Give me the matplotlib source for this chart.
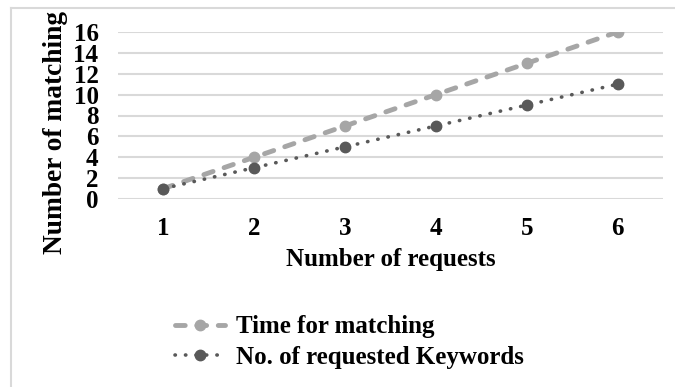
import matplotlib.pyplot as plt
from matplotlib.lines import Line2D

plt.rcParams['font.family'] = ['Liberation Serif', 'DejaVu Serif']
plt.rcParams['font.weight'] = 'bold'

# data
requests = [1, 2, 3, 4, 5, 6]
time_matching = [1, 4, 7, 10, 13, 16]
keywords = [1, 3, 5, 7, 9, 11]
yticks = [0, 2, 4, 6, 8, 10, 12, 14, 16]

light = '#a6a6a6'
dark = '#595959'
fs = 18

fig = plt.figure(figsize=(6.75, 3.87), dpi=100)
ax = fig.add_axes([118/675, 1 - 199/387, (663-118)/675, (199-32)/387])

ax.plot(requests, time_matching, color=light, linestyle=(0, (2, 2.4)), linewidth=3.5,
        marker='o', markersize=7.5, label='Time for matching', dash_capstyle='round')
ax.plot(requests, keywords, color=dark, linestyle=(0, (0.1, 2.8)), linewidth=2.6,
        marker='o', markersize=7.5, label='No. of requested Keywords', dash_capstyle='round')

ax.set_xlim(0.5, 6.5)
ax.set_ylim(0, 16)
ax.set_yticks(yticks)
ax.set_xticks(requests)
ax.yaxis.grid(True, color='#d9d9d9', linewidth=1.5)
ax.set_axisbelow(True)
for s in ax.spines.values():
    s.set_visible(False)
ax.tick_params(length=0, labelsize=fs)
ax.tick_params(axis='x', pad=13)
ax.tick_params(axis='y', pad=14)
for lbl in ax.get_xticklabels() + ax.get_yticklabels():
    lbl.set_fontweight('bold')

ax.set_xlabel('Number of requests', fontsize=fs, fontweight='bold', labelpad=6)
fig.text(55/675, 1 - 133/387, 'Number of matching', rotation=90, fontsize=19.7,
         fontweight='bold', ha='center', va='center')

# frame lines (left and top only visible)
fig.add_artist(Line2D([11/675, 11/675], [0, 1 - 8/387], color='#d9d9d9', linewidth=1.5))
fig.add_artist(Line2D([11/675, 1], [1 - 8/387, 1 - 8/387], color='#d9d9d9', linewidth=1.5))

h, l = ax.get_legend_handles_labels()
leg = fig.legend(h, l, loc='center left', bbox_to_anchor=(175/675, 1 - 342/387),
                 frameon=False, fontsize=fs, handlelength=2.0, handletextpad=0.45,
                 labelspacing=0.3, borderaxespad=0, borderpad=0)
for t in leg.get_texts():
    t.set_fontweight('bold')

fig.savefig('out.png', dpi=100)
